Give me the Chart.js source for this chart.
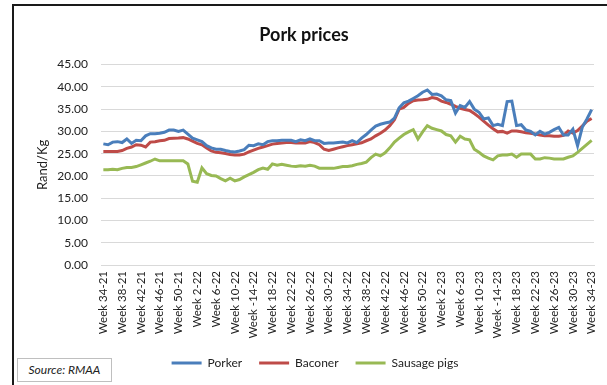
<!DOCTYPE html>
<html>
<head>
<meta charset="utf-8">
<script src="https://cdn.jsdelivr.net/npm/chart.js@4.4.0/dist/chart.umd.min.js"></script>
<style>
  html, body { margin: 0; padding: 0; background: #fff; overflow: hidden; }
  body { width: 607px; height: 385px; position: relative; }
  #frame { position: absolute; left: 12px; top: 4px; width: 700px; height: 500px;
           border-left: 2px solid #1a1a1a; border-top: 2px solid #1a1a1a; }
  #wrap { position: absolute; left: 14px; top: 6px; width: 604px; height: 400px; }
  #source { position: absolute; left: 17px; top: 358px; width: 93px; height: 22px;
            border: 1px solid #bfbfbf; background: #fff; font: italic 12px Lato, sans-serif;
            color: #222; line-height: 22px; text-align: center; }
</style>
</head>
<body>
<div id="frame"></div>
<div id="wrap"><canvas id="porkChart"></canvas></div>
<div id="source">Source: RMAA</div>
<script>
// Etiquettes affichées sur l'axe X (une semaine sur quatre)
const tickLabels = ['Week 34-21', 'Week 38-21', 'Week 42-21', 'Week 46-21', 'Week 50-21',
  'Week 2-22', 'Week 6-22', 'Week 10-22', 'Week -14-22', 'Week 18-22', 'Week 22-22',
  'Week 26-22', 'Week 30-22', 'Week 34-22', 'Week 38-22', 'Week 42-22', 'Week 46-22',
  'Week 50-22', 'Week 2-23', 'Week 6-23', 'Week 10-23', 'Week -14-23', 'Week 18-23',
  'Week 22-23', 'Week 26-23', 'Week 30-23', 'Week 34-23'];

// Prix hebdomadaires (Rand/Kg)
const porker = [27.2, 27.0, 27.6, 27.7, 27.5, 28.3, 27.3, 28.0, 27.9, 29.0,
  29.5, 29.5, 29.6, 29.8, 30.3, 30.3, 30.0, 30.3, 29.4, 28.5,
  28.1, 27.7, 26.8, 26.3, 26.0, 26.0, 25.7, 25.5, 25.4, 25.6,
  25.9, 26.9, 26.8, 27.2, 27.0, 27.7, 27.9, 27.9, 28.0, 28.0,
  28.0, 27.7, 28.1, 27.9, 28.3, 27.9, 27.9, 27.3, 27.4, 27.4,
  27.5, 27.6, 27.4, 27.9, 27.5, 28.5, 29.3, 30.3, 31.2, 31.6,
  31.9, 32.1, 33.0, 35.3, 36.4, 36.8, 37.4, 38.0, 38.8, 39.3,
  38.3, 38.4, 38.0, 37.1, 36.9, 34.1, 35.8, 35.4, 36.7, 35.0,
  34.3, 32.8, 33.0, 31.3, 31.6, 31.3, 36.7, 36.8, 31.3, 31.5,
  30.3, 30.0, 29.2, 30.0, 29.4, 29.8, 30.4, 30.9, 29.2, 29.2,
  30.5, 26.8, 30.9, 32.8, 34.9];

const baconer = [25.5, 25.5, 25.5, 25.5, 25.7, 26.2, 26.5, 27.0, 26.9, 26.5,
  27.6, 27.7, 27.9, 28.0, 28.4, 28.45, 28.5, 28.6, 28.3, 27.8,
  27.3, 27.0, 26.3, 25.6, 25.3, 25.2, 25.05, 24.8, 24.7, 24.7,
  24.9, 25.4, 25.8, 26.2, 26.5, 26.8, 27.15, 27.3, 27.4, 27.5,
  27.5, 27.4, 27.4, 27.4, 27.7, 27.5, 27.0, 26.0, 25.7, 26.0,
  26.3, 26.55, 26.8, 27.0, 27.2, 27.45, 27.9, 28.3, 29.0, 29.6,
  30.3, 31.3, 32.6, 35.0, 35.4, 36.3, 36.9, 37.05, 37.1, 37.2,
  37.6, 37.4, 36.8, 36.5, 36.1, 35.6, 35.2, 34.9, 34.7, 34.0,
  33.2, 32.3, 31.4, 30.6, 29.9, 30.0, 29.6, 30.1, 30.1, 29.9,
  29.7, 29.6, 29.4, 29.2, 29.0, 29.0, 28.9, 28.9, 29.1, 30.1,
  29.6, 30.2, 31.2, 32.3, 32.9];

const sausagePigs = [21.4, 21.4, 21.5, 21.4, 21.7, 21.9, 21.9, 22.1, 22.5, 22.9,
  23.3, 23.8, 23.4, 23.4, 23.4, 23.4, 23.4, 23.4, 22.7, 18.8,
  18.6, 21.8, 20.5, 20.1, 20.0, 19.4, 18.9, 19.5, 18.9, 19.2,
  19.8, 20.3, 20.8, 21.4, 21.75, 21.5, 22.7, 22.4, 22.6, 22.4,
  22.2, 22.1, 22.3, 22.2, 22.4, 22.2, 21.75, 21.7, 21.7, 21.7,
  21.9, 22.1, 22.1, 22.3, 22.6, 22.8, 23.1, 24.1, 24.9, 24.5,
  25.2, 26.3, 27.6, 28.5, 29.3, 29.9, 30.4, 28.3, 29.9, 31.3,
  30.7, 30.4, 30.1, 29.3, 29.0, 27.6, 28.9, 28.3, 28.1, 26.0,
  25.3, 24.5, 24.0, 23.6, 24.5, 24.7, 24.7, 24.9, 24.2, 24.9,
  24.9, 24.9, 23.8, 23.8, 24.1, 24.0, 23.8, 23.8, 23.8, 24.2,
  24.5, 25.3, 26.2, 27.1, 28.0];

// Une catégorie par semaine, seule une sur quatre porte un texte
const categories = porker.map((v, i) => (i % 4 === 0 ? tickLabels[i / 4] : ''));

const FONT = 'Lato, "Open Sans", sans-serif';

function makeDataset(label, values, color) {
  return {
    label: label,
    data: values,
    borderColor: color,
    backgroundColor: color,
    borderWidth: 3,
    pointRadius: 0,
    tension: 0,
    pointStyle: 'line'
  };
}

// Décaler un peu la légende vers la droite, comme dans l'original
const legendShift = {
  id: 'legendShift',
  afterLayout(chart) {
    if (chart.legend) {
      chart.legend.left += 11;
      chart.legend.right += 11;
    }
  }
};

const ctx = document.getElementById('porkChart');

new Chart(ctx, {
  type: 'line',
  data: {
    labels: categories,
    datasets: [
      makeDataset('Porker', porker, '#4a7ebb'),
      makeDataset('Baconer', baconer, '#be4b48'),
      makeDataset('Sausage pigs', sausagePigs, '#98b954')
    ]
  },
  plugins: [legendShift],
  options: {
    responsive: true,
    maintainAspectRatio: false,
    animation: false,
    layout: { padding: { left: 0, right: 24, top: 0, bottom: 27 } },
    scales: {
      x: {
        offset: true,
        grid: { display: false, drawTicks: false },
        border: { display: true, color: '#d9d9d9' },
        ticks: {
          autoSkip: false,
          minRotation: 90,
          maxRotation: 90,
          padding: 6,
          color: '#222',
          font: { family: FONT, size: 11.5 }
        },
        afterFit: (scale) => { scale.height = 75; }
      },
      y: {
        min: 0,
        max: 45,
        grid: { color: '#d9d9d9', drawTicks: false },
        border: { display: false },
        ticks: {
          stepSize: 5,
          padding: 13,
          color: '#222',
          font: { family: FONT, size: 12 },
          callback: (v) => v.toFixed(2)
        },
        title: {
          display: true,
          text: 'Rand/Kg',
          color: '#222',
          padding: { top: 21, bottom: 0 },
          font: { family: FONT, size: 13 }
        },
        afterFit: (scale) => { scale.width = 87; }
      }
    },
    plugins: {
      title: {
        display: true,
        text: 'Pork prices',
        color: '#111',
        padding: { top: 18, bottom: 19 },
        font: { family: FONT, size: 18, weight: 'bold' }
      },
      legend: {
        position: 'bottom',
        labels: {
          usePointStyle: true,
          pointStyleWidth: 30,
          padding: 17,
          color: '#222',
          font: { family: FONT, size: 12 }
        }
      },
      tooltip: { enabled: false }
    }
  }
});
</script>
</body>
</html>
